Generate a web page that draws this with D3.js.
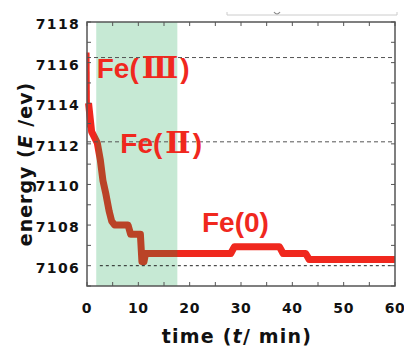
<!DOCTYPE html>
<html>
<head>
<meta charset="utf-8">
<script src="https://cdn.jsdelivr.net/npm/d3@7"></script>
<style>
  body { margin: 0; background: #fff; }
  svg { display: block; }
</style>
</head>
<body>
<svg id="chart" width="404" height="347"></svg>
<script>
// size of the picture and the plot box inside it
const w = 404;
const h = 347;
const margin = {top: 22, right: 9, bottom: 61, left: 87};

// data
// thin first drop right at the start
const thinTime = [0.2, 0.3];
const thinEnergy = [7116.5, 7112.8];
// main trace (thick line)
const traceTime = [0.3, 0.9, 2.0, 2.6, 3.1, 3.7, 4.3, 4.8, 5.4, 8.0, 8.5, 10.4, 10.7, 11.1, 11.4, 28.0, 28.7, 37.5, 38.2, 42.6, 43.3, 60];
const traceEnergy = [7114.0, 7112.6, 7112.05, 7111.2, 7110.2, 7109.5, 7108.7, 7108.2, 7108.0, 7108.0, 7107.55, 7107.55, 7106.2, 7106.2, 7106.6, 7106.6, 7106.93, 7106.93, 7106.6, 7106.6, 7106.3, 7106.3];
// shaded time window
const shadeRange = [1.8, 17.6];
// reference levels (dashed)
const refLevels = [7116.25, 7112.1, 7106];
const refStart = [0, 0, 2.5];
// state labels: text before the numeral, numeral, closing
const stateHead = ["Fe(", "Fe(", "Fe(0"];
const stateNum = ["\u2162", "\u2161", ""];
const labelTime = [1.9, 6.5, 22.4];
const labelEnergy = [7115.25, 7111.55, 7107.65];
// ticks
const xTicks = [0, 10, 20, 30, 40, 50, 60];
const yTicks = [7106, 7108, 7110, 7112, 7114, 7116, 7118];

const iw = w - margin.left - margin.right;
const ih = h - margin.top - margin.bottom;

const svg = d3.select("#chart");
const g = svg.append("g").attr("transform", `translate(${margin.left},${margin.top})`);

const x = d3.scaleLinear().domain([0, 60]).range([0, iw]);
const y = d3.scaleLinear().domain([7105, 7118]).range([ih, 0]);

const line = d3.line().x(d => x(d[0])).y(d => y(d[1]));
const red = "#f0281e";

// red trace
g.append("path")
    .datum(thinTime.map((t, i) => [t, thinEnergy[i]]))
    .attr("d", line)
    .attr("fill", "none")
    .attr("stroke", red)
    .attr("stroke-width", 3);

g.append("path")
    .datum(traceTime.map((t, i) => [t, traceEnergy[i]]))
    .attr("d", line)
    .attr("fill", "none")
    .attr("stroke", red)
    .attr("stroke-width", 7)
    .attr("stroke-linejoin", "round");

// green window sits over the line, so the line looks brown under it
g.append("rect")
    .attr("x", x(shadeRange[0]))
    .attr("width", x(shadeRange[1]) - x(shadeRange[0]))
    .attr("y", 0)
    .attr("height", ih)
    .attr("fill", "rgb(10,160,70)")
    .attr("fill-opacity", 0.23);

// dashed reference lines
refLevels.forEach((v, i) => {
    g.append("line")
        .attr("x1", x(refStart[i]))
        .attr("x2", iw)
        .attr("y1", y(v))
        .attr("y2", y(v))
        .attr("stroke", i < 2 ? "#555" : "#222")
        .attr("stroke-width", 1)
        .attr("stroke-dasharray", i < 2 ? "4,3" : "3,3");
});

// frame with inward ticks
const tickColor = "#555";
g.append("rect")
    .attr("width", iw).attr("height", ih)
    .attr("fill", "none")
    .attr("stroke", tickColor)
    .attr("stroke-width", 1.5);

d3.range(0, 61, 5).forEach(t => {
    g.append("line").attr("x1", x(t)).attr("x2", x(t)).attr("y1", ih).attr("y2", ih - 4)
        .attr("stroke", tickColor).attr("stroke-width", 1);
    g.append("line").attr("x1", x(t)).attr("x2", x(t)).attr("y1", 0).attr("y2", 4)
        .attr("stroke", tickColor).attr("stroke-width", 1);
});
d3.range(7105, 7119, 1).forEach(v => {
    g.append("line").attr("x1", 0).attr("x2", 4).attr("y1", y(v)).attr("y2", y(v))
        .attr("stroke", tickColor).attr("stroke-width", 1);
    g.append("line").attr("x1", iw).attr("x2", iw - 4).attr("y1", y(v)).attr("y2", y(v))
        .attr("stroke", tickColor).attr("stroke-width", 1);
});

// tick labels
const tickFont = "'DejaVu Sans', Verdana, sans-serif";
g.selectAll(".xlab").data(xTicks).enter().append("text")
    .attr("x", d => x(d))
    .attr("y", ih + 27)
    .attr("text-anchor", "middle")
    .attr("font-family", tickFont)
    .attr("font-weight", "bold")
    .attr("font-size", 14)
    .attr("letter-spacing", 0.6)
    .attr("fill", "#111")
    .text(d => d);

g.selectAll(".ylab").data(yTicks).enter().append("text")
    .attr("x", -7)
    .attr("y", d => y(d) + 7)
    .attr("text-anchor", "end")
    .attr("font-family", tickFont)
    .attr("font-weight", "bold")
    .attr("font-size", 14)
    .attr("letter-spacing", 1.3)
    .attr("fill", "#111")
    .text(d => d);

// axis titles
const xt = svg.append("text")
    .attr("x", margin.left + iw / 2 - 4)
    .attr("y", 343)
    .attr("text-anchor", "middle")
    .attr("font-family", tickFont)
    .attr("font-weight", "bold")
    .attr("font-size", 19)
    .attr("letter-spacing", 1.2)
    .attr("fill", "#111");
xt.append("tspan").text("time (");
xt.append("tspan").attr("font-style", "italic").text("t");
xt.append("tspan").text("/ min)");

const yt = svg.append("text")
    .attr("transform", "translate(32,164) rotate(-90)")
    .attr("text-anchor", "middle")
    .attr("font-family", tickFont)
    .attr("font-weight", "bold")
    .attr("font-size", 19)
    .attr("letter-spacing", 1)
    .attr("fill", "#111");
yt.append("tspan").text("energy (");
yt.append("tspan").attr("font-style", "italic").text("E");
yt.append("tspan").text(" /ev)");

// state labels
const labels = g.selectAll(".state").data(stateHead).enter().append("text")
    .attr("x", (d, i) => x(labelTime[i]))
    .attr("y", (d, i) => y(labelEnergy[i]))
    .attr("font-family", "'Liberation Sans', Arial, sans-serif")
    .attr("font-weight", "bold")
    .attr("font-size", 28)
    .attr("fill", red);
labels.append("tspan").text(d => d);
labels.append("tspan")
    .attr("font-family", "'DejaVu Serif', serif")
    .attr("dx", (d, i) => stateNum[i] ? 3 : 0)
    .attr("font-size", 30)
    .text((d, i) => stateNum[i]);
labels.append("tspan")
    .attr("dx", (d, i) => stateNum[i] ? 2 : 0)
    .text(")");

// faint cut-off box edge at the very top
svg.append("path")
    .attr("d", "M227,12V15H397V12")
    .attr("fill", "none")
    .attr("stroke", "#ccc")
    .attr("stroke-width", 1);
svg.append("path")
    .attr("d", "M274,12Q277,16 280,12")
    .attr("fill", "none")
    .attr("stroke", "#888")
    .attr("stroke-width", 1.2);
</script>
</body>
</html>
